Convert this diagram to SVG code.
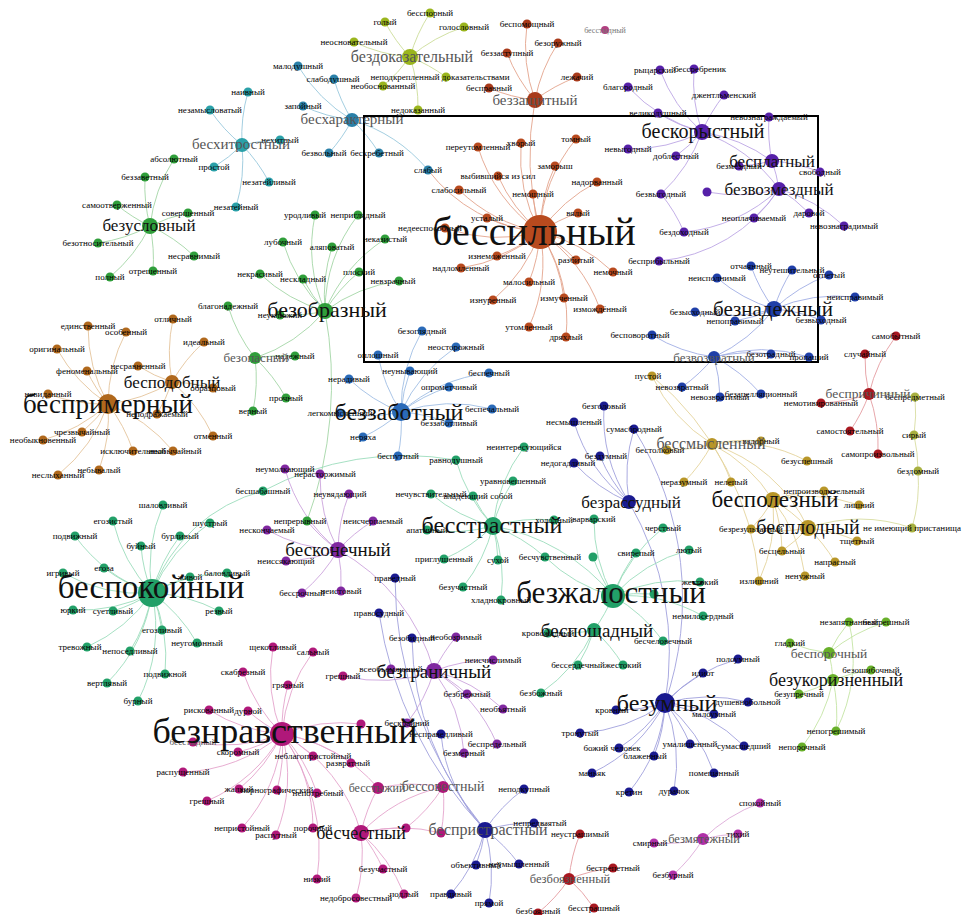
<svg xmlns="http://www.w3.org/2000/svg" width="962" height="915" viewBox="0 0 962 915">
<style>
text{font-family:"Liberation Serif","Times New Roman",serif;text-anchor:middle;fill:#000}
.s{font-size:9px}
.h{fill:#111}
.hg{fill:#555}
#edges path{fill:none;stroke-width:0.9}
.er{stroke:#e3a48c}.ey{stroke:#ccdc98}.et{stroke:#98c8dc}.eg{stroke:#a4d6a6}.ep{stroke:#bca6e4}.eb{stroke:#a0aee4}
.ebr{stroke:#e4c49c}.ebl{stroke:#a0bee4}.erd{stroke:#e49ca0}.eo{stroke:#e4d49c}.eol{stroke:#d8dca0}.en{stroke:#a0a0dc}
.egt{stroke:#9cdcbc}.epu{stroke:#cca4dc}.em{stroke:#e4a4cc}.elg{stroke:#c4e4a4}.emp{stroke:#dcaad8}
.cr{fill:#b84a1e}.crz{fill:#a83a1a}.cy{fill:#9ab51d}.ct{fill:#2a80a8}.ctq{fill:#2aa0a8}.cg{fill:#2f9e3a}
.cp{fill:#5620a8}.cb{fill:#1f3fa8}.cbr{fill:#b0681c}.cbl{fill:#2a6ab8}.crd{fill:#a81820}.co{fill:#b89628}
.col{fill:#a8b040}.cn{fill:#1a1a90}.cgt{fill:#22a068}.cpu{fill:#8028a0}.cm{fill:#b0187a}.clg{fill:#68b02a}
.cmp{fill:#b030a8}.cgm{fill:#b04080}
</style>
<rect width="962" height="915" fill="#fff"/>
<g id="edges">
<path class="er" d="M540 232A160 160 0 0 1 478 147M540 232A160 160 0 0 1 521 143M540 232A160 160 0 0 1 576 139M540 232A160 160 0 0 1 555 166M540 232A160 160 0 0 1 498 176M540 232A160 160 0 0 1 597 182M540 232A160 160 0 0 1 459 190M540 232A160 160 0 0 1 533 194M540 232A160 160 0 0 1 487 218M540 232A160 160 0 0 1 578 213M540 232A160 160 0 0 1 445 228M540 232A160 160 0 0 1 497 256M540 232A160 160 0 0 1 461 268M540 232A160 160 0 0 1 576 260M540 232A160 160 0 0 1 613 272M540 232A160 160 0 0 1 529 282M540 232A160 160 0 0 1 493 300M540 232A160 160 0 0 1 564 298M540 232A160 160 0 0 1 600 309M540 232A160 160 0 0 1 529 327M540 232A160 160 0 0 1 566 337M540 232A160 160 0 0 1 428 170M540 232A300 300 0 0 1 535 100"/>
<path class="er" d="M535 100A160 160 0 0 1 527 24M535 100A160 160 0 0 1 558 43M535 100A160 160 0 0 1 507 53M535 100A160 160 0 0 1 577 77M535 100A160 160 0 0 1 489 88"/>
<path class="ey" d="M410 57A160 160 0 0 1 385 22M410 57A160 160 0 0 1 430 13M410 57A160 160 0 0 1 464 27M410 57A160 160 0 0 1 354 42M410 57A160 160 0 0 1 446 77M410 57A160 160 0 0 1 383 86M410 57A160 160 0 0 1 418 110"/>
<path class="et" d="M352 120A160 160 0 0 1 298 66M352 120A160 160 0 0 1 334 79M352 120A160 160 0 0 1 303 106M352 120A160 160 0 0 1 329 153M352 120A160 160 0 0 1 379 153M352 120A160 160 0 0 1 428 170M242 145A160 160 0 0 1 248 92M242 145A160 160 0 0 1 210 110M242 145A160 160 0 0 1 280 140M242 145A160 160 0 0 1 214 167M242 145A160 160 0 0 1 269 182M242 145A160 160 0 0 1 236 207"/>
<path class="eg" d="M150 226A160 160 0 0 1 174 159M150 226A160 160 0 0 1 145 177M150 226A160 160 0 0 1 117 205M150 226A160 160 0 0 1 188 213M150 226A160 160 0 0 1 98 243M150 226A160 160 0 0 1 194 256M150 226A160 160 0 0 1 110 277M150 226A160 160 0 0 1 153 271"/>
<path class="eg" d="M325 311A160 160 0 0 1 315 215M325 311A160 160 0 0 1 358 215M325 311A160 160 0 0 1 283 242M325 311A160 160 0 0 1 332 247M325 311A160 160 0 0 1 385 239M325 311A160 160 0 0 1 260 274M325 311A160 160 0 0 1 303 279M325 311A160 160 0 0 1 359 272M325 311A160 160 0 0 1 399 281M325 311A160 160 0 0 1 280 315M325 311A160 160 0 0 1 255 358M325 311A400 400 0 0 1 307 521M255 358A160 160 0 0 1 228 306M255 358A160 160 0 0 1 295 356M255 358A160 160 0 0 1 286 398M255 358A160 160 0 0 1 253 411"/>
<path class="ep" d="M702 132A160 160 0 0 1 660 70M702 132A160 160 0 0 1 694 69M702 132A160 160 0 0 1 628 87M702 132A160 160 0 0 1 724 95M702 132A160 160 0 0 1 658 113M702 132A160 160 0 0 1 628 149M702 132A160 160 0 0 1 676 156M702 132A160 160 0 0 1 661 194M702 132A160 160 0 0 1 772 161M702 132A160 160 0 0 1 779 189M772 161A160 160 0 0 1 769 117M772 161A160 160 0 0 1 739 166M772 161A160 160 0 0 1 820 172M772 161A160 160 0 0 1 779 189M779 189A160 160 0 0 1 707 192M779 189A160 160 0 0 1 754 218M779 189A160 160 0 0 1 809 213M779 189A160 160 0 0 1 844 226M779 189A160 160 0 0 1 684 232M779 189A160 160 0 0 1 659 261M661 194A160 160 0 0 1 684 232"/>
<path class="eb" d="M774 309A160 160 0 0 1 751 266M774 309A160 160 0 0 1 792 270M774 309A160 160 0 0 1 829 275M774 309A160 160 0 0 1 717 278M774 309A160 160 0 0 1 855 297M774 309A160 160 0 0 1 695 312M774 309A160 160 0 0 1 735 321M774 309A160 160 0 0 1 821 320M774 309A160 160 0 0 1 714 357M714 357A160 160 0 0 1 652 335M714 357A160 160 0 0 1 771 354M714 357A160 160 0 0 1 809 357M714 357A160 160 0 0 1 682 387M714 357A160 160 0 0 1 720 397M714 357A160 160 0 0 1 761 394"/>
<path class="ebr" d="M172 382A160 160 0 0 1 173 319M172 382A160 160 0 0 1 204 342M172 382A160 160 0 0 1 138 366M172 382A160 160 0 0 1 213 388M172 382A160 160 0 0 1 157 414M172 382A160 160 0 0 1 213 436M172 382A160 160 0 0 1 108 404M108 404A160 160 0 0 1 88 326M108 404A160 160 0 0 1 126 332M108 404A160 160 0 0 1 57 349M108 404A160 160 0 0 1 87 371M108 404A160 160 0 0 1 48 394M108 404A160 160 0 0 1 82 432M108 404A160 160 0 0 1 43 440M108 404A160 160 0 0 1 133 451M108 404A160 160 0 0 1 173 451M108 404A160 160 0 0 1 99 470M108 404A160 160 0 0 1 58 475"/>
<path class="ebl" d="M401 412A160 160 0 0 1 422 331M401 412A160 160 0 0 1 456 347M401 412A160 160 0 0 1 378 355M401 412A160 160 0 0 1 410 371M401 412A160 160 0 0 1 489 373M401 412A160 160 0 0 1 449 387M401 412A160 160 0 0 1 349 379M401 412A160 160 0 0 1 492 409M401 412A160 160 0 0 1 449 423M401 412A160 160 0 0 1 335 413M401 412A160 160 0 0 1 363 437M401 412A160 160 0 0 1 398 456"/>
<path class="erd" d="M869 394A160 160 0 0 1 896 336M869 394A160 160 0 0 1 865 354M869 394A160 160 0 0 1 821 403M869 394A160 160 0 0 1 850 431M869 394A160 160 0 0 1 878 454"/>
<path class="eol" d="M869 394A160 160 0 0 1 915 397M915 397A160 160 0 0 1 914 435M914 435A160 160 0 0 1 918 471M918 471A160 160 0 0 1 912 528M912 528A160 160 0 0 0 808 528"/>
<path class="eo" d="M712 444A160 160 0 0 1 652 376M712 444A160 160 0 0 1 761 441M712 444A160 160 0 0 1 667 450M712 444A160 160 0 0 1 807 461M712 444A160 160 0 0 1 684 482M712 444A160 160 0 0 1 731 482M712 444A160 160 0 0 1 773 500M712 444A160 160 0 0 1 808 528M773 500A160 160 0 0 1 824 491M773 500A160 160 0 0 1 859 505M773 500A160 160 0 0 1 751 529M773 500A160 160 0 0 1 782 551M773 500A160 160 0 0 1 759 581M773 500A160 160 0 0 1 805 576M773 500A160 160 0 0 1 808 528M808 528A160 160 0 0 1 857 541M808 528A160 160 0 0 1 835 562M808 528A160 160 0 0 1 751 529M808 528A160 160 0 0 1 782 551M652 376A300 300 0 0 1 759 581"/>
<path class="en" d="M629 502A160 160 0 0 1 604 406M629 502A160 160 0 0 1 574 422M629 502A160 160 0 0 1 634 429M629 502A160 160 0 0 1 574 463M629 502A160 160 0 0 1 600 456M629 502A300 300 0 0 1 665 703M665 703A160 160 0 0 1 738 659M665 703A160 160 0 0 1 703 673M665 703A160 160 0 0 1 616 710M665 703A160 160 0 0 1 748 702M665 703A160 160 0 0 1 714 714M665 703A160 160 0 0 1 580 733M665 703A160 160 0 0 1 619 748M665 703A160 160 0 0 1 690 744M665 703A160 160 0 0 1 744 746M665 703A160 160 0 0 1 654 756M665 703A160 160 0 0 1 714 773M665 703A160 160 0 0 1 674 791M665 703A160 160 0 0 1 629 792M665 703A160 160 0 0 1 592 773M634 429A320 320 0 0 1 665 703"/>
<path class="egt" d="M493 526A160 160 0 0 1 456 460M493 526A160 160 0 0 1 524 447M493 526A160 160 0 0 1 513 481M493 526A160 160 0 0 1 431 494M493 526A160 160 0 0 1 473 496M493 526A160 160 0 0 1 427 530M493 526A160 160 0 0 1 444 559M493 526A160 160 0 0 1 498 560M493 526A160 160 0 0 1 545 557M493 526A160 160 0 0 1 463 587M493 526A160 160 0 0 1 501 600M493 526A160 160 0 0 1 554 520M493 526A200 200 0 0 1 613 596M613 596A160 160 0 0 1 594 519M613 596A160 160 0 0 1 663 528M613 596A160 160 0 0 1 636 553M613 596A160 160 0 0 1 689 550M613 596A160 160 0 0 1 593 557M613 596A160 160 0 0 1 700 582M613 596A160 160 0 0 1 654 594M613 596A160 160 0 0 1 703 616M613 596A160 160 0 0 1 663 641M613 596A160 160 0 0 1 594 630M613 596A160 160 0 0 1 545 557M594 630A160 160 0 0 1 548 633M594 630A160 160 0 0 1 578 665M594 630A160 160 0 0 1 623 665M594 630A160 160 0 0 1 541 693"/>
<path class="egt" d="M152 593A160 160 0 0 1 263 491M152 593A160 160 0 0 1 163 505M152 593A160 160 0 0 1 113 521M152 593A160 160 0 0 1 210 523M152 593A160 160 0 0 1 75 536M152 593A160 160 0 0 1 180 536M152 593A160 160 0 0 1 141 546M152 593A160 160 0 0 1 63 573M152 593A160 160 0 0 1 104 568M152 593A160 160 0 0 1 227 573M152 593A160 160 0 0 1 190 577M152 593A160 160 0 0 1 73 610M152 593A160 160 0 0 1 113 611M152 593A160 160 0 0 1 219 611M152 593A160 160 0 0 1 162 630M152 593A160 160 0 0 1 197 643M152 593A160 160 0 0 1 87 647M152 593A160 160 0 0 1 130 651M152 593A160 160 0 0 1 165 674M152 593A160 160 0 0 1 107 683M152 593A160 160 0 0 1 138 701M263 491A300 300 0 0 1 456 460"/>
<path class="epu" d="M338 550A160 160 0 0 1 285 469M338 550A160 160 0 0 1 320 474M338 550A160 160 0 0 1 349 494M338 550A160 160 0 0 1 307 521M338 550A160 160 0 0 1 267 530M338 550A160 160 0 0 1 373 521M338 550A160 160 0 0 1 286 561M338 550A160 160 0 0 1 302 593M338 550A160 160 0 0 1 341 591M338 550A200 200 0 0 1 434 671M434 671A160 160 0 0 1 456 637M434 671A160 160 0 0 1 493 660M434 671A160 160 0 0 1 391 669M434 671A160 160 0 0 1 343 676M434 671A160 160 0 0 1 467 694M434 671A160 160 0 0 1 503 709M434 671A160 160 0 0 1 407 723M434 671A160 160 0 0 1 497 744M434 671A160 160 0 0 1 464 753"/>
<path class="elg" d="M829 653A160 160 0 0 1 849 622M829 653A160 160 0 0 1 886 622M829 653A160 160 0 0 1 790 643M829 653A160 160 0 0 1 833 680M833 680A160 160 0 0 1 871 670M833 680A160 160 0 0 1 799 694M833 680A160 160 0 0 1 836 731M833 680A160 160 0 0 1 802 747M849 622A160 160 0 0 1 836 731"/>
<path class="em" d="M282 734A160 160 0 0 1 273 647M282 734A160 160 0 0 1 313 652M282 734A160 160 0 0 1 243 672M282 734A160 160 0 0 1 288 685M282 734A160 160 0 0 1 209 710M282 734A160 160 0 0 1 248 711M282 734A160 160 0 0 1 193 742M282 734A160 160 0 0 1 238 752M282 734A160 160 0 0 1 313 756M282 734A160 160 0 0 1 183 772M282 734A160 160 0 0 1 351 763M282 734A160 160 0 0 1 239 789M282 734A160 160 0 0 1 277 790M282 734A160 160 0 0 1 207 801M282 734A160 160 0 0 1 242 828M282 734A160 160 0 0 1 276 835M282 734A160 160 0 0 1 313 828M282 734A160 160 0 0 1 317 793M282 734A160 160 0 0 1 378 788M282 734A160 160 0 0 1 361 833M282 734A160 160 0 0 1 361 724M282 734A200 200 0 0 1 317 879M361 833A160 160 0 0 1 406 828M361 833A160 160 0 0 1 441 833M361 833A160 160 0 0 1 383 869M361 833A160 160 0 0 1 404 894M361 833A160 160 0 0 1 356 898M361 833A160 160 0 0 1 443 787M361 833A160 160 0 0 1 378 788M378 788A160 160 0 0 1 443 787M443 787A160 160 0 0 1 406 828M443 787A160 160 0 0 1 441 833"/>
<path class="en" d="M485 830A160 160 0 0 1 524 789M485 830A160 160 0 0 1 534 823M485 830A160 160 0 0 1 476 865M485 830A160 160 0 0 1 519 864M485 830A160 160 0 0 1 451 894M485 830A160 160 0 0 1 489 903M485 830A160 160 0 0 1 441 734M485 830A400 400 0 0 1 395 578M485 830A400 400 0 0 1 379 613M485 830A300 300 0 0 1 412 638"/>
<path class="erd" d="M569 879A160 160 0 0 1 580 834M569 879A160 160 0 0 1 613 868M569 879A160 160 0 0 1 594 908M569 879A160 160 0 0 1 538 913"/>
<path class="emp" d="M703 839A160 160 0 0 1 760 803M703 839A160 160 0 0 1 738 834M703 839A160 160 0 0 1 654 843M703 839A160 160 0 0 1 673 875"/>
</g>
<rect x="364" y="116" width="454" height="246" fill="none" stroke="#000" stroke-width="2"/>
<g id="leaves">
<g id="n001"><circle class="cr" cx="478" cy="147" r="4.5"/><text class="s" x="478" y="150">переутомленный</text></g>
<g id="n002"><circle class="cr" cx="521" cy="143" r="4.5"/><text class="s" x="521" y="146">хворый</text></g>
<g id="n003"><circle class="cr" cx="576" cy="139" r="4.5"/><text class="s" x="576" y="142">томный</text></g>
<g id="n004"><circle class="cr" cx="555" cy="166" r="4.5"/><text class="s" x="555" y="169">заморыш</text></g>
<g id="n005"><circle class="cr" cx="498" cy="176" r="4.5"/><text class="s" x="498" y="179">выбившийся из сил</text></g>
<g id="n006"><circle class="cr" cx="597" cy="182" r="4.5"/><text class="s" x="597" y="185">надорванный</text></g>
<g id="n007"><circle class="cr" cx="459" cy="190" r="4.5"/><text class="s" x="459" y="193">слабосильный</text></g>
<g id="n008"><circle class="cr" cx="533" cy="194" r="4.5"/><text class="s" x="533" y="197">немощный</text></g>
<g id="n009"><circle class="cr" cx="487" cy="218" r="4.5"/><text class="s" x="487" y="221">усталый</text></g>
<g id="n010"><circle class="cr" cx="578" cy="213" r="4.5"/><text class="s" x="578" y="216">вялый</text></g>
<g id="n011"><circle class="cr" cx="445" cy="228" r="4.5"/><text class="s" x="430" y="231">недееспособный</text></g>
<g id="n012"><circle class="cr" cx="497" cy="256" r="4.5"/><text class="s" x="497" y="259">изнеможенный</text></g>
<g id="n013"><circle class="cr" cx="461" cy="268" r="4.5"/><text class="s" x="461" y="271">надломленный</text></g>
<g id="n014"><circle class="cr" cx="576" cy="260" r="4.5"/><text class="s" x="576" y="263">разбитый</text></g>
<g id="n015"><circle class="cr" cx="613" cy="272" r="4.5"/><text class="s" x="613" y="275">немочный</text></g>
<g id="n016"><circle class="cr" cx="529" cy="282" r="4.5"/><text class="s" x="529" y="285">малосильный</text></g>
<g id="n017"><circle class="cr" cx="493" cy="300" r="4.5"/><text class="s" x="493" y="303">изнуренный</text></g>
<g id="n018"><circle class="cr" cx="564" cy="298" r="4.5"/><text class="s" x="564" y="301">измученный</text></g>
<g id="n019"><circle class="cr" cx="600" cy="309" r="4.5"/><text class="s" x="600" y="312">измождённый</text></g>
<g id="n020"><circle class="cr" cx="529" cy="327" r="4.5"/><text class="s" x="529" y="330">утомленный</text></g>
<g id="n021"><circle class="cr" cx="566" cy="337" r="4.5"/><text class="s" x="566" y="340">дряхлый</text></g>
<g id="n022"><circle class="ct" cx="428" cy="170" r="4.5"/><text class="s" x="428" y="173">слабый</text></g>
<g id="n023"><circle class="crz" cx="527" cy="24" r="4.5"/><text class="s" x="527" y="27">беспомощный</text></g>
<g id="n024"><circle class="crz" cx="558" cy="43" r="4.5"/><text class="s" x="558" y="46">безоружный</text></g>
<g id="n025"><circle class="crz" cx="507" cy="53" r="4.5"/><text class="s" x="507" y="56">беззаступный</text></g>
<g id="n026"><circle class="crz" cx="577" cy="77" r="4.5"/><text class="s" x="577" y="80">лежачий</text></g>
<g id="n027"><circle class="crz" cx="489" cy="88" r="4.5"/><text class="s" x="489" y="91">бесправный</text></g>
<g id="n028"><circle class="cgm" cx="605" cy="30" r="4"/><text class="s" x="605" y="33" style="fill:#777;font-size:8px">бесстыдный</text></g>
<g id="n029"><circle class="cy" cx="385" cy="22" r="4.5"/><text class="s" x="385" y="25">голый</text></g>
<g id="n030"><circle class="cy" cx="430" cy="13" r="4.5"/><text class="s" x="430" y="16">бесспорный</text></g>
<g id="n031"><circle class="cy" cx="464" cy="27" r="4.5"/><text class="s" x="464" y="30">голословный</text></g>
<g id="n032"><circle class="cy" cx="354" cy="42" r="4.5"/><text class="s" x="354" y="45">неосновательный</text></g>
<g id="n033"><circle class="cy" cx="446" cy="77" r="4.5"/><text class="s" x="440" y="80">неподкрепленный доказательствами</text></g>
<g id="n034"><circle class="cy" cx="383" cy="86" r="4.5"/><text class="s" x="383" y="89">необоснованный</text></g>
<g id="n035"><circle class="cy" cx="418" cy="110" r="4.5"/><text class="s" x="418" y="113">недоказанный</text></g>
<g id="n036"><circle class="ct" cx="298" cy="66" r="4.5"/><text class="s" x="298" y="69">малодушный</text></g>
<g id="n037"><circle class="ct" cx="334" cy="79" r="4.5"/><text class="s" x="333" y="82">слабодушный</text></g>
<g id="n038"><circle class="ct" cx="303" cy="106" r="4.5"/><text class="s" x="303" y="109">запойный</text></g>
<g id="n039"><circle class="ct" cx="329" cy="153" r="4.5"/><text class="s" x="324" y="156">безвольный</text></g>
<g id="n040"><circle class="ct" cx="379" cy="153" r="4.5"/><text class="s" x="377" y="156">бесхребетный</text></g>
<g id="n041"><circle class="ctq" cx="248" cy="92" r="4.5"/><text class="s" x="248" y="95">наивный</text></g>
<g id="n042"><circle class="ctq" cx="210" cy="110" r="4.5"/><text class="s" x="210" y="113">незамысловатый</text></g>
<g id="n043"><circle class="ctq" cx="280" cy="140" r="4.5"/><text class="s" x="280" y="143">нехитрый</text></g>
<g id="n044"><circle class="ctq" cx="214" cy="167" r="4.5"/><text class="s" x="214" y="170">простой</text></g>
<g id="n045"><circle class="ctq" cx="269" cy="182" r="4.5"/><text class="s" x="269" y="185">незатейливый</text></g>
<g id="n046"><circle class="ctq" cx="236" cy="207" r="4.5"/><text class="s" x="236" y="210">незатейный</text></g>
<g id="n047"><circle class="cg" cx="174" cy="159" r="4.5"/><text class="s" x="174" y="162">абсолютный</text></g>
<g id="n048"><circle class="cg" cx="145" cy="177" r="4.5"/><text class="s" x="145" y="180">беззаветный</text></g>
<g id="n049"><circle class="cg" cx="117" cy="205" r="4.5"/><text class="s" x="117" y="208">самоотверженный</text></g>
<g id="n050"><circle class="cg" cx="188" cy="213" r="4.5"/><text class="s" x="188" y="216">совершенный</text></g>
<g id="n051"><circle class="cg" cx="98" cy="243" r="4.5"/><text class="s" x="98" y="246">безотносительный</text></g>
<g id="n052"><circle class="cg" cx="194" cy="256" r="4.5"/><text class="s" x="194" y="259">несравнимый</text></g>
<g id="n053"><circle class="cg" cx="110" cy="277" r="4.5"/><text class="s" x="110" y="280">полный</text></g>
<g id="n054"><circle class="cg" cx="153" cy="271" r="4.5"/><text class="s" x="153" y="274">отрешенный</text></g>
<g id="n055"><circle class="cg" cx="315" cy="215" r="4.5"/><text class="s" x="305" y="218">уродливый</text></g>
<g id="n056"><circle class="cg" cx="358" cy="215" r="4.5"/><text class="s" x="358" y="218">неприглядный</text></g>
<g id="n057"><circle class="cg" cx="283" cy="242" r="4.5"/><text class="s" x="283" y="245">лубочный</text></g>
<g id="n058"><circle class="cg" cx="332" cy="247" r="4.5"/><text class="s" x="332" y="250">аляповатый</text></g>
<g id="n059"><circle class="cg" cx="385" cy="239" r="4.5"/><text class="s" x="385" y="242">неказистый</text></g>
<g id="n060"><circle class="cg" cx="260" cy="274" r="4.5"/><text class="s" x="260" y="277">некрасивый</text></g>
<g id="n061"><circle class="cg" cx="303" cy="279" r="4.5"/><text class="s" x="303" y="282">нескладный</text></g>
<g id="n062"><circle class="cg" cx="359" cy="272" r="4.5"/><text class="s" x="359" y="275">плоский</text></g>
<g id="n063"><circle class="cg" cx="399" cy="281" r="4.5"/><text class="s" x="393" y="284">невзрачный</text></g>
<g id="n064"><circle class="cg" cx="280" cy="315" r="4.5"/><text class="s" x="280" y="318">неуклюжий</text></g>
<g id="n065"><circle class="cg" cx="228" cy="306" r="4.5"/><text class="s" x="228" y="309">благонадежный</text></g>
<g id="n066"><circle class="cg" cx="295" cy="356" r="4.5"/><text class="s" x="295" y="359">надежный</text></g>
<g id="n067"><circle class="cg" cx="286" cy="398" r="4.5"/><text class="s" x="286" y="401">прочный</text></g>
<g id="n068"><circle class="cg" cx="253" cy="411" r="4.5"/><text class="s" x="253" y="414">верный</text></g>
<g id="n069"><circle class="cp" cx="660" cy="70" r="4.5"/><text class="s" x="655" y="73">рыцарский</text></g>
<g id="n070"><circle class="cp" cx="694" cy="69" r="4.5"/><text class="s" x="700" y="72">бессребреник</text></g>
<g id="n071"><circle class="cp" cx="628" cy="87" r="4.5"/><text class="s" x="628" y="90">благородный</text></g>
<g id="n072"><circle class="cp" cx="724" cy="95" r="4.5"/><text class="s" x="724" y="98">джентльменский</text></g>
<g id="n073"><circle class="cp" cx="658" cy="113" r="4.5"/><text class="s" x="658" y="116">великодушный</text></g>
<g id="n074"><circle class="cp" cx="628" cy="149" r="4.5"/><text class="s" x="628" y="152">невыгодный</text></g>
<g id="n075"><circle class="cp" cx="676" cy="156" r="4.5"/><text class="s" x="676" y="159">доблестный</text></g>
<g id="n076"><circle class="cp" cx="661" cy="194" r="4.5"/><text class="s" x="661" y="197">безвыгодный</text></g>
<g id="n077"><circle class="cp" cx="769" cy="117" r="4.5"/><text class="s" x="769" y="120">невознаграждаемый</text></g>
<g id="n078"><circle class="cp" cx="739" cy="166" r="4.5"/><text class="s" x="739" y="169">безмездный</text></g>
<g id="n079"><circle class="cp" cx="820" cy="172" r="4.5"/><text class="s" x="820" y="175">свободный</text></g>
<g id="n080"><circle class="cp" cx="707" cy="192" r="4.5"/></g>
<g id="n081"><circle class="cp" cx="754" cy="218" r="4.5"/><text class="s" x="754" y="221">неоплачиваемый</text></g>
<g id="n082"><circle class="cp" cx="809" cy="213" r="4.5"/><text class="s" x="809" y="216">даровой</text></g>
<g id="n083"><circle class="cp" cx="844" cy="226" r="4.5"/><text class="s" x="844" y="229">невознаградимый</text></g>
<g id="n084"><circle class="cp" cx="684" cy="232" r="4.5"/><text class="s" x="684" y="235">бездоходный</text></g>
<g id="n085"><circle class="cp" cx="659" cy="261" r="4.5"/><text class="s" x="659" y="264">бесприбыльный</text></g>
<g id="n086"><circle class="cb" cx="751" cy="266" r="4.5"/><text class="s" x="751" y="269">отчаянный</text></g>
<g id="n087"><circle class="cb" cx="792" cy="270" r="4.5"/><text class="s" x="792" y="273">неутешительный</text></g>
<g id="n088"><circle class="cb" cx="829" cy="275" r="4.5"/><text class="s" x="829" y="278">отпетый</text></g>
<g id="n089"><circle class="cb" cx="717" cy="278" r="4.5"/><text class="s" x="717" y="281">неисполнимый</text></g>
<g id="n090"><circle class="cb" cx="855" cy="297" r="4.5"/><text class="s" x="855" y="300">неисправимый</text></g>
<g id="n091"><circle class="cb" cx="695" cy="312" r="4.5"/><text class="s" x="695" y="315">безысходный</text></g>
<g id="n092"><circle class="cb" cx="735" cy="321" r="4.5"/><text class="s" x="735" y="324">непоправимый</text></g>
<g id="n093"><circle class="cb" cx="821" cy="320" r="4.5"/><text class="s" x="821" y="323">безвыходный</text></g>
<g id="n094"><circle class="cb" cx="652" cy="335" r="4.5"/><text class="s" x="640" y="338">бесповоротный</text></g>
<g id="n095"><circle class="cb" cx="771" cy="354" r="4.5"/><text class="s" x="771" y="357">безотрадный</text></g>
<g id="n096"><circle class="cb" cx="809" cy="357" r="4.5"/><text class="s" x="809" y="360">пропащий</text></g>
<g id="n097"><circle class="cb" cx="682" cy="387" r="4.5"/><text class="s" x="682" y="390">невозвратный</text></g>
<g id="n098"><circle class="cb" cx="720" cy="397" r="4.5"/><text class="s" x="720" y="400">невозвратимый</text></g>
<g id="n099"><circle class="cb" cx="761" cy="394" r="4.5"/><text class="s" x="761" y="397">безапелляционный</text></g>
<g id="n100"><circle class="cbr" cx="173" cy="319" r="4.5"/><text class="s" x="173" y="322">отличный</text></g>
<g id="n101"><circle class="cbr" cx="204" cy="342" r="4.5"/><text class="s" x="204" y="345">идеальный</text></g>
<g id="n102"><circle class="cbr" cx="138" cy="366" r="4.5"/><text class="s" x="138" y="369">несравненный</text></g>
<g id="n103"><circle class="cbr" cx="213" cy="388" r="4.5"/><text class="s" x="213" y="391">образцовый</text></g>
<g id="n104"><circle class="cbr" cx="157" cy="414" r="4.5"/><text class="s" x="157" y="417">неподражаемый</text></g>
<g id="n105"><circle class="cbr" cx="213" cy="436" r="4.5"/><text class="s" x="213" y="439">отменный</text></g>
<g id="n106"><circle class="cbr" cx="88" cy="326" r="4.5"/><text class="s" x="88" y="329">единственный</text></g>
<g id="n107"><circle class="cbr" cx="126" cy="332" r="4.5"/><text class="s" x="126" y="335">особенный</text></g>
<g id="n108"><circle class="cbr" cx="57" cy="349" r="4.5"/><text class="s" x="57" y="352">оригинальный</text></g>
<g id="n109"><circle class="cbr" cx="87" cy="371" r="4.5"/><text class="s" x="87" y="374">феноменальный</text></g>
<g id="n110"><circle class="cbr" cx="48" cy="394" r="4.5"/><text class="s" x="48" y="397">невиданный</text></g>
<g id="n111"><circle class="cbr" cx="82" cy="432" r="4.5"/><text class="s" x="82" y="435">чрезвычайный</text></g>
<g id="n112"><circle class="cbr" cx="43" cy="440" r="4.5"/><text class="s" x="43" y="443">необыкновенный</text></g>
<g id="n113"><circle class="cbr" cx="133" cy="451" r="4.5"/><text class="s" x="133" y="454">исключительный</text></g>
<g id="n114"><circle class="cbr" cx="173" cy="451" r="4.5"/><text class="s" x="175" y="454">необычайный</text></g>
<g id="n115"><circle class="cbr" cx="99" cy="470" r="4.5"/><text class="s" x="99" y="473">небывалый</text></g>
<g id="n116"><circle class="cbr" cx="58" cy="475" r="4.5"/><text class="s" x="58" y="478">неслыханный</text></g>
<g id="n117"><circle class="cbl" cx="422" cy="331" r="4.5"/><text class="s" x="422" y="334">безоглядный</text></g>
<g id="n118"><circle class="cbl" cx="456" cy="347" r="4.5"/><text class="s" x="456" y="350">неосторожный</text></g>
<g id="n119"><circle class="cbl" cx="378" cy="355" r="4.5"/><text class="s" x="378" y="358">оплошный</text></g>
<g id="n120"><circle class="cbl" cx="410" cy="371" r="4.5"/><text class="s" x="410" y="374">неунывающий</text></g>
<g id="n121"><circle class="cbl" cx="489" cy="373" r="4.5"/><text class="s" x="489" y="376">беспечный</text></g>
<g id="n122"><circle class="cbl" cx="449" cy="387" r="4.5"/><text class="s" x="449" y="390">опрометчивый</text></g>
<g id="n123"><circle class="cbl" cx="349" cy="379" r="4.5"/><text class="s" x="349" y="382">нерадивый</text></g>
<g id="n124"><circle class="cbl" cx="492" cy="409" r="4.5"/><text class="s" x="492" y="412">беспечальный</text></g>
<g id="n125"><circle class="cbl" cx="449" cy="423" r="4.5"/><text class="s" x="449" y="426">беззаботливый</text></g>
<g id="n126"><circle class="cbl" cx="340" cy="413" r="4.5"/><text class="s" x="340" y="416">легкомысленный</text></g>
<g id="n127"><circle class="cbl" cx="363" cy="437" r="4.5"/><text class="s" x="363" y="440">неряха</text></g>
<g id="n128"><circle class="cbl" cx="398" cy="456" r="4.5"/><text class="s" x="398" y="459">беспутный</text></g>
<g id="n129"><circle class="crd" cx="896" cy="336" r="4.5"/><text class="s" x="896" y="339">самобытный</text></g>
<g id="n130"><circle class="crd" cx="865" cy="354" r="4.5"/><text class="s" x="865" y="357">случайный</text></g>
<g id="n131"><circle class="crd" cx="821" cy="403" r="4.5"/><text class="s" x="821" y="406">немотивированный</text></g>
<g id="n132"><circle class="crd" cx="850" cy="431" r="4.5"/><text class="s" x="850" y="434">самостоятельный</text></g>
<g id="n133"><circle class="crd" cx="878" cy="454" r="4.5"/><text class="s" x="878" y="457">самопроизвольный</text></g>
<g id="n134"><circle class="col" cx="915" cy="397" r="4.5"/><text class="s" x="915" y="400">беспредметный</text></g>
<g id="n135"><circle class="col" cx="914" cy="435" r="4.5"/><text class="s" x="914" y="438">сирый</text></g>
<g id="n136"><circle class="col" cx="918" cy="471" r="4.5"/><text class="s" x="918" y="474">бездомный</text></g>
<g id="n137"><circle class="col" cx="912" cy="528" r="4.5"/><text class="s" x="912" y="531">не имеющий пристанища</text></g>
<g id="n138"><circle class="co" cx="652" cy="376" r="4.5"/><text class="s" x="648" y="379">пустой</text></g>
<g id="n139"><circle class="co" cx="761" cy="441" r="4.5"/><text class="s" x="761" y="444">вздорный</text></g>
<g id="n140"><circle class="co" cx="667" cy="450" r="4.5"/><text class="s" x="660" y="453">бестолковый</text></g>
<g id="n141"><circle class="co" cx="807" cy="461" r="4.5"/><text class="s" x="807" y="464">безуспешный</text></g>
<g id="n142"><circle class="co" cx="684" cy="482" r="4.5"/><text class="s" x="684" y="485">неразумный</text></g>
<g id="n143"><circle class="co" cx="731" cy="482" r="4.5"/><text class="s" x="731" y="485">нелепый</text></g>
<g id="n144"><circle class="co" cx="824" cy="491" r="4.5"/><text class="s" x="824" y="494">непроизводительный</text></g>
<g id="n145"><circle class="co" cx="859" cy="505" r="4.5"/><text class="s" x="859" y="508">лишний</text></g>
<g id="n146"><circle class="co" cx="751" cy="529" r="4.5"/><text class="s" x="751" y="532">безрезультатный</text></g>
<g id="n147"><circle class="co" cx="782" cy="551" r="4.5"/><text class="s" x="782" y="554">бесцельный</text></g>
<g id="n148"><circle class="co" cx="759" cy="581" r="4.5"/><text class="s" x="759" y="584">излишний</text></g>
<g id="n149"><circle class="co" cx="805" cy="576" r="4.5"/><text class="s" x="805" y="579">ненужный</text></g>
<g id="n150"><circle class="co" cx="857" cy="541" r="4.5"/><text class="s" x="857" y="544">тщетный</text></g>
<g id="n151"><circle class="co" cx="835" cy="562" r="4.5"/><text class="s" x="835" y="565">напрасный</text></g>
<g id="n152"><circle class="cn" cx="604" cy="406" r="4.5"/><text class="s" x="604" y="409">безголовый</text></g>
<g id="n153"><circle class="cn" cx="574" cy="422" r="4.5"/><text class="s" x="574" y="425">несмышленый</text></g>
<g id="n154"><circle class="cn" cx="634" cy="429" r="4.5"/><text class="s" x="634" y="432">сумасбродный</text></g>
<g id="n155"><circle class="cn" cx="574" cy="463" r="4.5"/><text class="s" x="568" y="466">недогадливый</text></g>
<g id="n156"><circle class="cn" cx="600" cy="456" r="4.5"/><text class="s" x="606" y="459">бездумный</text></g>
<g id="n157"><circle class="cgt" cx="456" cy="460" r="4.5"/><text class="s" x="456" y="463">равнодушный</text></g>
<g id="n158"><circle class="cgt" cx="524" cy="447" r="4.5"/><text class="s" x="524" y="450">неинтересующийся</text></g>
<g id="n159"><circle class="cgt" cx="513" cy="481" r="4.5"/><text class="s" x="513" y="484">уравновешенный</text></g>
<g id="n160"><circle class="cgt" cx="431" cy="494" r="4.5"/><text class="s" x="431" y="497">нечувствительный</text></g>
<g id="n161"><circle class="cgt" cx="473" cy="496" r="4.5"/><text class="s" x="478" y="499">владеющий собой</text></g>
<g id="n162"><circle class="cgt" cx="427" cy="530" r="4.5"/><text class="s" x="427" y="533">апатичный</text></g>
<g id="n163"><circle class="cgt" cx="444" cy="559" r="4.5"/><text class="s" x="444" y="562">приглушенный</text></g>
<g id="n164"><circle class="cgt" cx="498" cy="560" r="4.5"/><text class="s" x="498" y="563">сухой</text></g>
<g id="n165"><circle class="cgt" cx="545" cy="557" r="4.5"/><text class="s" x="550" y="560">бесчувственный</text></g>
<g id="n166"><circle class="cgt" cx="463" cy="587" r="4.5"/><text class="s" x="463" y="590">безучастный</text></g>
<g id="n167"><circle class="cgt" cx="501" cy="600" r="4.5"/><text class="s" x="501" y="603">хладнокровный</text></g>
<g id="n168"><circle class="cgt" cx="554" cy="520" r="4.5"/><text class="s" x="554" y="523">холодный</text></g>
<g id="n169"><circle class="cgt" cx="594" cy="519" r="4.5"/><text class="s" x="594" y="522">варварский</text></g>
<g id="n170"><circle class="cgt" cx="663" cy="528" r="4.5"/><text class="s" x="663" y="531">черствый</text></g>
<g id="n171"><circle class="cgt" cx="636" cy="553" r="4.5"/><text class="s" x="636" y="556">свирепый</text></g>
<g id="n172"><circle class="cgt" cx="689" cy="550" r="4.5"/><text class="s" x="689" y="553">лютый</text></g>
<g id="n173"><circle class="cgt" cx="593" cy="557" r="4.5"/></g>
<g id="n174"><circle class="cgt" cx="700" cy="582" r="4.5"/><text class="s" x="700" y="585">жестокий</text></g>
<g id="n175"><circle class="cgt" cx="654" cy="594" r="4.5"/></g>
<g id="n176"><circle class="cgt" cx="703" cy="616" r="4.5"/><text class="s" x="703" y="619">немилосердный</text></g>
<g id="n177"><circle class="cgt" cx="663" cy="641" r="4.5"/><text class="s" x="663" y="644">бесчеловечный</text></g>
<g id="n178"><circle class="cgt" cx="548" cy="633" r="4.5"/><text class="s" x="548" y="636">кровожадный</text></g>
<g id="n179"><circle class="cgt" cx="578" cy="665" r="4.5"/><text class="s" x="578" y="668">бессердечный</text></g>
<g id="n180"><circle class="cgt" cx="623" cy="665" r="4.5"/><text class="s" x="623" y="668">жестокий</text></g>
<g id="n181"><circle class="cgt" cx="541" cy="693" r="4.5"/><text class="s" x="541" y="696">безбожный</text></g>
<g id="n182"><circle class="cpu" cx="285" cy="469" r="4.5"/><text class="s" x="285" y="472">неумолкающий</text></g>
<g id="n183"><circle class="cpu" cx="320" cy="474" r="4.5"/><text class="s" x="325" y="477">нерасторжимый</text></g>
<g id="n184"><circle class="cpu" cx="349" cy="494" r="4.5"/><text class="s" x="340" y="497">неувядающий</text></g>
<g id="n185"><circle class="cg" cx="307" cy="521" r="4.5"/><text class="s" x="300" y="524">непрерывный</text></g>
<g id="n186"><circle class="cpu" cx="267" cy="530" r="4.5"/><text class="s" x="267" y="533">нескончаемый</text></g>
<g id="n187"><circle class="cpu" cx="373" cy="521" r="4.5"/><text class="s" x="373" y="524">неисчерпаемый</text></g>
<g id="n188"><circle class="cpu" cx="286" cy="561" r="4.5"/><text class="s" x="286" y="564">неиссякающий</text></g>
<g id="n189"><circle class="cpu" cx="302" cy="593" r="4.5"/><text class="s" x="302" y="596">бессрочный</text></g>
<g id="n190"><circle class="cpu" cx="341" cy="591" r="4.5"/><text class="s" x="341" y="594">неистовый</text></g>
<g id="n191"><circle class="cn" cx="395" cy="578" r="4.5"/><text class="s" x="395" y="581">праведный</text></g>
<g id="n192"><circle class="cn" cx="379" cy="613" r="4.5"/><text class="s" x="379" y="616">правосудный</text></g>
<g id="n193"><circle class="cn" cx="412" cy="638" r="4.5"/><text class="s" x="412" y="641">безобидный</text></g>
<g id="n194"><circle class="cpu" cx="456" cy="637" r="4.5"/><text class="s" x="456" y="640">необозримый</text></g>
<g id="n195"><circle class="cpu" cx="493" cy="660" r="4.5"/><text class="s" x="493" y="663">неисчислимый</text></g>
<g id="n196"><circle class="cpu" cx="391" cy="669" r="4.5"/><text class="s" x="391" y="672">всеобъемлющий</text></g>
<g id="n197"><circle class="cm" cx="343" cy="676" r="4.5"/><text class="s" x="343" y="679">грешный</text></g>
<g id="n198"><circle class="cpu" cx="467" cy="694" r="4.5"/><text class="s" x="467" y="697">безбрежный</text></g>
<g id="n199"><circle class="cpu" cx="503" cy="709" r="4.5"/><text class="s" x="503" y="712">необъятный</text></g>
<g id="n200"><circle class="cpu" cx="407" cy="723" r="4.5"/><text class="s" x="407" y="726">бескрайний</text></g>
<g id="n201"><circle class="cpu" cx="497" cy="744" r="4.5"/><text class="s" x="497" y="747">беспредельный</text></g>
<g id="n202"><circle class="cpu" cx="464" cy="753" r="4.5"/><text class="s" x="464" y="756">безмерный</text></g>
<g id="n203"><circle class="cgt" cx="263" cy="491" r="4.5"/><text class="s" x="263" y="494">бесшабашный</text></g>
<g id="n204"><circle class="cgt" cx="163" cy="505" r="4.5"/><text class="s" x="163" y="508">шаловливый</text></g>
<g id="n205"><circle class="cgt" cx="113" cy="521" r="4.5"/><text class="s" x="113" y="524">егозистый</text></g>
<g id="n206"><circle class="cgt" cx="210" cy="523" r="4.5"/><text class="s" x="210" y="526">шустрый</text></g>
<g id="n207"><circle class="cgt" cx="75" cy="536" r="4.5"/><text class="s" x="75" y="539">подвижный</text></g>
<g id="n208"><circle class="cgt" cx="180" cy="536" r="4.5"/><text class="s" x="180" y="539">бурливый</text></g>
<g id="n209"><circle class="cgt" cx="141" cy="546" r="4.5"/><text class="s" x="141" y="549">буйный</text></g>
<g id="n210"><circle class="cgt" cx="63" cy="573" r="4.5"/><text class="s" x="63" y="576">игривый</text></g>
<g id="n211"><circle class="cgt" cx="104" cy="568" r="4.5"/><text class="s" x="104" y="571">егоза</text></g>
<g id="n212"><circle class="cgt" cx="227" cy="573" r="4.5"/><text class="s" x="227" y="576">баловливый</text></g>
<g id="n213"><circle class="cgt" cx="190" cy="577" r="4.5"/><text class="s" x="190" y="580">живой</text></g>
<g id="n214"><circle class="cgt" cx="73" cy="610" r="4.5"/><text class="s" x="73" y="613">юркий</text></g>
<g id="n215"><circle class="cgt" cx="113" cy="611" r="4.5"/><text class="s" x="113" y="614">суетливый</text></g>
<g id="n216"><circle class="cgt" cx="219" cy="611" r="4.5"/><text class="s" x="219" y="614">резвый</text></g>
<g id="n217"><circle class="cgt" cx="162" cy="630" r="4.5"/><text class="s" x="162" y="633">егозливый</text></g>
<g id="n218"><circle class="cgt" cx="197" cy="643" r="4.5"/><text class="s" x="197" y="646">неугомонный</text></g>
<g id="n219"><circle class="cgt" cx="87" cy="647" r="4.5"/><text class="s" x="80" y="650">тревожный</text></g>
<g id="n220"><circle class="cgt" cx="130" cy="651" r="4.5"/><text class="s" x="130" y="654">непоседливый</text></g>
<g id="n221"><circle class="cgt" cx="165" cy="674" r="4.5"/><text class="s" x="165" y="677">подвижной</text></g>
<g id="n222"><circle class="cgt" cx="107" cy="683" r="4.5"/><text class="s" x="107" y="686">вертлявый</text></g>
<g id="n223"><circle class="cgt" cx="138" cy="701" r="4.5"/><text class="s" x="138" y="704">бурный</text></g>
<g id="n224"><circle class="cn" cx="738" cy="659" r="4.5"/><text class="s" x="738" y="662">полоумный</text></g>
<g id="n225"><circle class="cn" cx="703" cy="673" r="4.5"/><text class="s" x="703" y="676">идиот</text></g>
<g id="n226"><circle class="cn" cx="616" cy="710" r="4.5"/><text class="s" x="612" y="713">кровный</text></g>
<g id="n227"><circle class="cn" cx="748" cy="702" r="4.5"/><text class="s" x="748" y="705">душевнобольной</text></g>
<g id="n228"><circle class="cn" cx="714" cy="714" r="4.5"/><text class="s" x="714" y="717">малоумный</text></g>
<g id="n229"><circle class="cn" cx="580" cy="733" r="4.5"/><text class="s" x="580" y="736">тронутый</text></g>
<g id="n230"><circle class="cn" cx="619" cy="748" r="4.5"/><text class="s" x="612" y="751">божий человек</text></g>
<g id="n231"><circle class="cn" cx="690" cy="744" r="4.5"/><text class="s" x="690" y="747">умалишенный</text></g>
<g id="n232"><circle class="cn" cx="744" cy="746" r="4.5"/><text class="s" x="744" y="749">сумасшедший</text></g>
<g id="n233"><circle class="cn" cx="654" cy="756" r="4.5"/><text class="s" x="645" y="759">блаженный</text></g>
<g id="n234"><circle class="cn" cx="714" cy="773" r="4.5"/><text class="s" x="714" y="776">помешанный</text></g>
<g id="n235"><circle class="cn" cx="674" cy="791" r="4.5"/><text class="s" x="674" y="794">дурачок</text></g>
<g id="n236"><circle class="cn" cx="629" cy="792" r="4.5"/><text class="s" x="629" y="795">кретин</text></g>
<g id="n237"><circle class="cn" cx="592" cy="773" r="4.5"/><text class="s" x="592" y="776">маньяк</text></g>
<g id="n238"><circle class="clg" cx="849" cy="622" r="4.5"/><text class="s" x="849" y="625">незапятнанный</text></g>
<g id="n239"><circle class="clg" cx="886" cy="622" r="4.5"/><text class="s" x="886" y="625">безгрешный</text></g>
<g id="n240"><circle class="clg" cx="790" cy="643" r="4.5"/><text class="s" x="790" y="646">гладкий</text></g>
<g id="n241"><circle class="clg" cx="871" cy="670" r="4.5"/><text class="s" x="871" y="673">безошибочный</text></g>
<g id="n242"><circle class="clg" cx="799" cy="694" r="4.5"/><text class="s" x="799" y="697">безупречный</text></g>
<g id="n243"><circle class="clg" cx="836" cy="731" r="4.5"/><text class="s" x="836" y="734">непогрешимый</text></g>
<g id="n244"><circle class="clg" cx="802" cy="747" r="4.5"/><text class="s" x="802" y="750">непорочный</text></g>
<g id="n245"><circle class="cm" cx="273" cy="647" r="4.5"/><text class="s" x="273" y="650">щекотливый</text></g>
<g id="n246"><circle class="cm" cx="313" cy="652" r="4.5"/><text class="s" x="313" y="655">сальный</text></g>
<g id="n247"><circle class="cm" cx="243" cy="672" r="4.5"/><text class="s" x="243" y="675">скабрезный</text></g>
<g id="n248"><circle class="cm" cx="288" cy="685" r="4.5"/><text class="s" x="288" y="688">грязный</text></g>
<g id="n249"><circle class="cm" cx="209" cy="710" r="4.5"/><text class="s" x="209" y="713">рискованный</text></g>
<g id="n250"><circle class="cm" cx="248" cy="711" r="4.5"/><text class="s" x="248" y="714">дурной</text></g>
<g id="n251"><circle class="cm" cx="193" cy="742" r="4.5"/><text class="s" x="193" y="745" style="fill:#555">бесстыдный</text></g>
<g id="n252"><circle class="cm" cx="238" cy="752" r="4.5"/><text class="s" x="238" y="755">скоромный</text></g>
<g id="n253"><circle class="cm" cx="313" cy="756" r="4.5"/><text class="s" x="313" y="759">неблагопристойный</text></g>
<g id="n254"><circle class="cm" cx="183" cy="772" r="4.5"/><text class="s" x="183" y="775">распущенный</text></g>
<g id="n255"><circle class="cm" cx="351" cy="763" r="4.5"/><text class="s" x="348" y="766">развратный</text></g>
<g id="n256"><circle class="cm" cx="239" cy="789" r="4.5"/><text class="s" x="239" y="792">жалкий</text></g>
<g id="n257"><circle class="cm" cx="277" cy="790" r="4.5"/><text class="s" x="277" y="793">порнографический</text></g>
<g id="n258"><circle class="cm" cx="207" cy="801" r="4.5"/><text class="s" x="207" y="804">грешный</text></g>
<g id="n259"><circle class="cm" cx="242" cy="828" r="4.5"/><text class="s" x="242" y="831">непристойный</text></g>
<g id="n260"><circle class="cm" cx="276" cy="835" r="4.5"/><text class="s" x="276" y="838">распутный</text></g>
<g id="n261"><circle class="cm" cx="313" cy="828" r="4.5"/><text class="s" x="313" y="831">порочный</text></g>
<g id="n262"><circle class="cm" cx="317" cy="793" r="4.5"/><text class="s" x="318" y="796">непотребный</text></g>
<g id="n263"><circle class="cm" cx="317" cy="879" r="4.5"/><text class="s" x="317" y="882">низкий</text></g>
<g id="n264"><circle class="cm" cx="361" cy="724" r="4.5"/></g>
<g id="n265"><circle class="cm" cx="406" cy="828" r="4.5"/></g>
<g id="n266"><circle class="cm" cx="441" cy="833" r="4.5"/></g>
<g id="n267"><circle class="cm" cx="383" cy="869" r="4.5"/><text class="s" x="383" y="872">безучастный</text></g>
<g id="n268"><circle class="cm" cx="404" cy="894" r="4.5"/><text class="s" x="404" y="897">подлый</text></g>
<g id="n269"><circle class="cm" cx="356" cy="898" r="4.5"/><text class="s" x="356" y="901">недобросовестный</text></g>
<g id="n270"><circle class="cn" cx="441" cy="734" r="4.5"/><text class="s" x="441" y="737">несправедливый</text></g>
<g id="n271"><circle class="cn" cx="524" cy="789" r="4.5"/><text class="s" x="524" y="792">неподкупный</text></g>
<g id="n272"><circle class="cn" cx="534" cy="823" r="4.5"/><text class="s" x="540" y="826">непредвзятый</text></g>
<g id="n273"><circle class="cn" cx="476" cy="865" r="4.5"/><text class="s" x="476" y="868">объективный</text></g>
<g id="n274"><circle class="cn" cx="519" cy="864" r="4.5"/><text class="s" x="519" y="867">неумышленный</text></g>
<g id="n275"><circle class="cn" cx="451" cy="894" r="4.5"/><text class="s" x="451" y="897">правдивый</text></g>
<g id="n276"><circle class="cn" cx="489" cy="903" r="4.5"/><text class="s" x="489" y="906">прямой</text></g>
<g id="n277"><circle class="crd" cx="580" cy="834" r="4.5"/><text class="s" x="580" y="837">неустрашимый</text></g>
<g id="n278"><circle class="crd" cx="613" cy="868" r="4.5"/><text class="s" x="613" y="871">бестрепетный</text></g>
<g id="n279"><circle class="crd" cx="594" cy="908" r="4.5"/><text class="s" x="594" y="911">бесстрашный</text></g>
<g id="n280"><circle class="crd" cx="538" cy="913" r="4.5"/><text class="s" x="538" y="914">безбоязный</text></g>
<g id="n281"><circle class="cmp" cx="760" cy="803" r="4.5"/><text class="s" x="760" y="806">спокойный</text></g>
<g id="n282"><circle class="cmp" cx="738" cy="834" r="4.5"/><text class="s" x="738" y="837">тихий</text></g>
<g id="n283"><circle class="cmp" cx="654" cy="843" r="4.5"/><text class="s" x="650" y="846">смирный</text></g>
<g id="n284"><circle class="cmp" cx="673" cy="875" r="4.5"/><text class="s" x="673" y="878">безбурный</text></g>
</g>
<g id="hubs">
<g id="h01"><circle class="cr" cx="540" cy="232" r="17"/><text x="534" y="245" style="font-size:40px" class="h">бессильный</text></g>
<g id="h02"><circle class="crz" cx="535" cy="100" r="8"/><text x="535" y="105" style="font-size:15px" class="hg">беззащитный</text></g>
<g id="h03"><circle class="cy" cx="410" cy="57" r="8"/><text x="412" y="62" style="font-size:16px" class="hg">бездоказательный</text></g>
<g id="h04"><circle class="ct" cx="352" cy="120" r="7"/><text x="352" y="124" style="font-size:15px" class="hg">бесхарактерный</text></g>
<g id="h05"><circle class="ctq" cx="242" cy="145" r="7"/><text x="241" y="149" style="font-size:15px" class="hg">бесхитростный</text></g>
<g id="h06"><circle class="cg" cx="150" cy="226" r="8"/><text x="149" y="231" style="font-size:17px" class="h">безусловный</text></g>
<g id="h07"><circle class="cg" cx="325" cy="311" r="8"/><text x="327" y="317" style="font-size:22px" class="h">безобразный</text></g>
<g id="h07b"><circle class="cg" cx="255" cy="358" r="6"/><text x="256" y="362" style="font-size:13px" class="hg">безопасный</text></g>
<g id="h08"><circle class="cp" cx="702" cy="132" r="8"/><text x="703" y="138" style="font-size:20px" class="h">бескорыстный</text></g>
<g id="h09"><circle class="cp" cx="772" cy="161" r="7"/><text x="772" y="167" style="font-size:17px" class="h">бесплатный</text></g>
<g id="h10"><circle class="cp" cx="779" cy="189" r="7"/><text x="779" y="195" style="font-size:17px" class="h">безвозмездный</text></g>
<g id="h11"><circle class="cb" cx="774" cy="309" r="8"/><text x="773" y="316" style="font-size:21px" class="h">безнадежный</text></g>
<g id="h12"><circle class="cb" cx="714" cy="357" r="6"/><text x="714" y="362" style="font-size:13px" class="hg">безвозвратный</text></g>
<g id="h13"><circle class="cbr" cx="172" cy="382" r="7"/><text x="172" y="388" style="font-size:17px" class="h">бесподобный</text></g>
<g id="h14"><circle class="cbr" cx="108" cy="404" r="10"/><text x="108" y="413" style="font-size:27px" class="h">беспримерный</text></g>
<g id="h15"><circle class="cbl" cx="401" cy="412" r="9"/><text x="399" y="420" style="font-size:24px" class="h">беззаботный</text></g>
<g id="h16"><circle class="crd" cx="869" cy="394" r="6"/><text x="868" y="398" style="font-size:13.5px" class="hg">беспричинный</text></g>
<g id="h17"><circle class="co" cx="712" cy="444" r="6"/><text x="711" y="449" style="font-size:16px" class="hg">бессмысленный</text></g>
<g id="h18"><circle class="co" cx="773" cy="500" r="8"/><text x="775" y="507" style="font-size:23px" class="h">бесполезный</text></g>
<g id="h19"><circle class="co" cx="808" cy="528" r="8"/><text x="808" y="534" style="font-size:20px" class="h">бесплодный</text></g>
<g id="h20"><circle class="cn" cx="629" cy="502" r="7"/><text x="631" y="508" style="font-size:17px" class="h">безрассудный</text></g>
<g id="h21"><circle class="cgt" cx="493" cy="526" r="9"/><text x="492" y="533" style="font-size:24px" class="h">бесстрастный</text></g>
<g id="h22"><circle class="cpu" cx="338" cy="550" r="8"/><text x="338" y="556" style="font-size:19px" class="h">бесконечный</text></g>
<g id="h23"><circle class="cgt" cx="152" cy="593" r="14"/><text x="151" y="598" style="font-size:33px" class="h">беспокойный</text></g>
<g id="h24"><circle class="cgt" cx="613" cy="596" r="12"/><text x="611" y="603" style="font-size:31px" class="h">безжалостный</text></g>
<g id="h25"><circle class="cgt" cx="594" cy="630" r="7"/><text x="597" y="637" style="font-size:19px" class="h">беспощадный</text></g>
<g id="h26"><circle class="cpu" cx="434" cy="671" r="8"/><text x="434" y="678" style="font-size:19px" class="h">безграничный</text></g>
<g id="h27"><circle class="cn" cx="665" cy="703" r="10"/><text x="667" y="711" style="font-size:24px" class="h">безумный</text></g>
<g id="h28"><circle class="clg" cx="829" cy="653" r="6"/><text x="829" y="658" style="font-size:13.5px" class="hg">беспорочный</text></g>
<g id="h29"><circle class="clg" cx="833" cy="680" r="6"/><text x="836" y="686" style="font-size:18px" class="h">безукоризненный</text></g>
<g id="h30"><circle class="cm" cx="282" cy="734" r="12"/><text x="285" y="743" style="font-size:36px" class="h">безнравственный</text></g>
<g id="h31"><circle class="cm" cx="443" cy="787" r="6"/><text x="443" y="791" style="font-size:14px" class="hg">бессовестный</text></g>
<g id="h32"><circle class="cm" cx="378" cy="788" r="6"/><text x="377" y="792" style="font-size:12px" class="hg">бесстыжий</text></g>
<g id="h33"><circle class="cm" cx="361" cy="833" r="8"/><text x="361" y="839" style="font-size:18px" class="h">бесчестный</text></g>
<g id="h34"><circle class="cn" cx="485" cy="830" r="8"/><text x="488" y="835" style="font-size:16px" class="hg">беспристрастный</text></g>
<g id="h35"><circle class="crd" cx="569" cy="879" r="6"/><text x="570" y="883" style="font-size:12.5px" class="hg">безбоязненный</text></g>
<g id="h36"><circle class="cmp" cx="703" cy="839" r="6"/><text x="704" y="843" style="font-size:12.5px" class="hg">безмятежный</text></g>
</g>
</svg>
